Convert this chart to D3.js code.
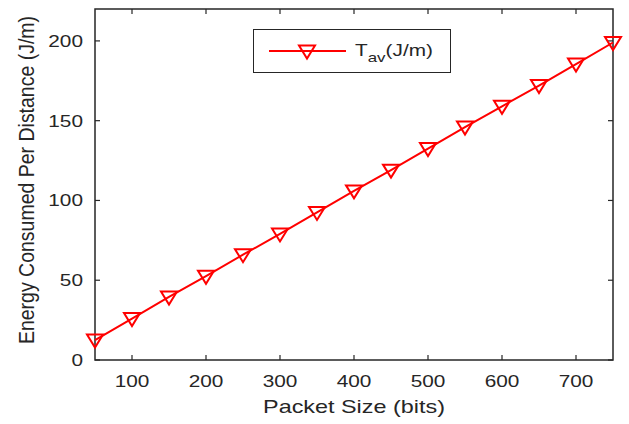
<!DOCTYPE html>
<html>
<head>
<meta charset="utf-8">
<script src="https://cdn.jsdelivr.net/npm/d3@7"></script>
<style>
  body { margin: 0; background: #fff; }
  svg { display: block; }
</style>
</head>
<body>
<div id="chart"></div>
<script>
// packet sizes (bits) and energy per distance (J/m)
const packetSizes = [50, 100, 150, 200, 250, 300, 350, 400, 450, 500, 550, 600, 650, 700, 750];
const energyValues = [12.5, 26, 39.5, 52.5, 66, 79, 92.5, 106, 119, 132.5, 146, 159, 172, 185.5, 199];
const xTicks = [100, 200, 300, 400, 500, 600, 700];
const yTicks = [0, 50, 100, 150, 200];
const seriesName = "T";
const seriesSub = "av";
const seriesUnit = "(J/m)";

const width = 629, height = 424;
const margin = { top: 9, right: 16, bottom: 64, left: 95 };
const axisColor = "#262626";
const lineColor = "#ff0000";
const font = "'Liberation Sans', Arial, Helvetica, sans-serif";
const stretch = 1.3; // the original figure is stretched sideways

const svg = d3.select("#chart").append("svg")
    .attr("width", width)
    .attr("height", height)
    .attr("font-family", font);

const innerW = width - margin.left - margin.right;
const innerH = height - margin.top - margin.bottom;

const x = d3.scaleLinear().domain([50, 750]).range([margin.left, margin.left + innerW]);
const y = d3.scaleLinear().domain([0, 220]).range([margin.top + innerH, margin.top]);

const tickLen = 5;

// text placed at (px,py), stretched horizontally
function addText(parent, px, py, txt, size, anchor, rotate, sx) {
    return parent.append("text")
        .attr("transform", `translate(${px},${py}) scale(${sx || stretch},1)` + (rotate ? ` rotate(${rotate})` : ""))
        .attr("text-anchor", anchor)
        .attr("font-size", size)
        .attr("fill", axisColor)
        .text(txt);
}

// box
svg.append("rect")
    .attr("x", x.range()[0]).attr("y", y.range()[1])
    .attr("width", innerW).attr("height", innerH)
    .attr("fill", "none").attr("stroke", axisColor).attr("stroke-width", 1.5);

// inward ticks on all sides
const g = svg.append("g").attr("stroke", axisColor).attr("stroke-width", 1.2);
xTicks.forEach(t => {
    g.append("line").attr("x1", x(t)).attr("x2", x(t)).attr("y1", y(0)).attr("y2", y(0) - tickLen);
    g.append("line").attr("x1", x(t)).attr("x2", x(t)).attr("y1", y(220)).attr("y2", y(220) + tickLen);
});
yTicks.forEach(t => {
    g.append("line").attr("x1", x(50)).attr("x2", x(50) + tickLen).attr("y1", y(t)).attr("y2", y(t));
    g.append("line").attr("x1", x(750)).attr("x2", x(750) - tickLen).attr("y1", y(t)).attr("y2", y(t));
});

// tick labels
const labels = svg.append("g");
xTicks.forEach(t => addText(labels, x(t), y(0) + 27, t, 16, "middle"));
yTicks.forEach(t => addText(labels, x(50) - 12, y(t) + 6, t, 16, "end"));

// axis labels
addText(svg, 265 + 178 / 2, 413, "Packet Size (bits)", 18, "middle");
addText(svg, 34, 180, "Energy Consumed Per Distance (J/m)", 19.5, "middle", -90, 1.15);

// series
const data = packetSizes.map((p, i) => ({ x: p, y: energyValues[i] }));

svg.append("path").datum(data)
    .attr("fill", "none").attr("stroke", lineColor).attr("stroke-width", 2)
    .attr("d", d3.line().x(d => x(d.x)).y(d => y(d.y)));

const tri = "M-8,-5.5L8,-5.5L0,7.5Z";
svg.append("g").selectAll("path.marker").data(data).join("path")
    .attr("class", "marker")
    .attr("transform", d => `translate(${x(d.x)},${y(d.y)})`)
    .attr("d", tri)
    .attr("fill", "none").attr("stroke", lineColor).attr("stroke-width", 2);

// legend
const leg = svg.append("g");
leg.append("rect")
    .attr("x", 253.5).attr("y", 29.5).attr("width", 197).attr("height", 43)
    .attr("fill", "#fff").attr("stroke", axisColor).attr("stroke-width", 1);
leg.append("line")
    .attr("x1", 269).attr("x2", 346).attr("y1", 51).attr("y2", 51)
    .attr("stroke", lineColor).attr("stroke-width", 2);
leg.append("path")
    .attr("transform", "translate(307,51)").attr("d", tri)
    .attr("fill", "none").attr("stroke", lineColor).attr("stroke-width", 2);
const lt = addText(leg, 355, 56, "", 16, "start");
lt.append("tspan").text(seriesName);
lt.append("tspan").attr("dy", 6).attr("font-size", 13).text(seriesSub);
lt.append("tspan").attr("dy", -6).text(seriesUnit);
</script>
</body>
</html>
